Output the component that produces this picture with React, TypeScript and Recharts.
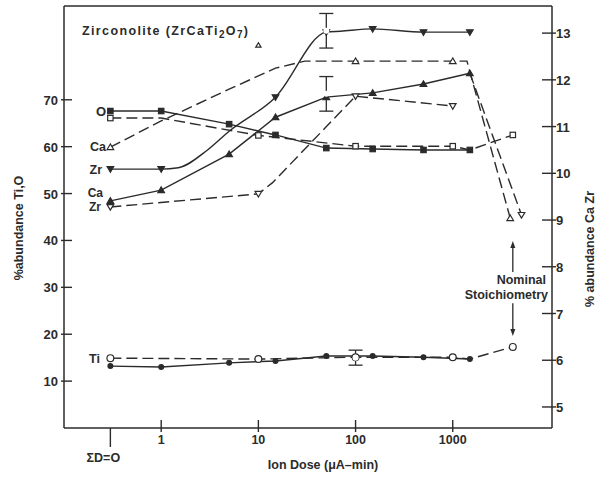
import React from 'react';
import { ComposedChart, Line, XAxis, YAxis, ReferenceLine, ErrorBar, Customized } from 'recharts';

const INK = '#2b2b2b';
const FONT = '"Liberation Sans", Arial, Helvetica, sans-serif';

// tick labels
const xTicks = [0.3, 1, 10, 100, 1000];
const leftTicks = [10, 20, 30, 40, 50, 60, 70];
const rightTicks = [5, 6, 7, 8, 9, 10, 11, 12, 13];

// O (left axis, %)
const oSolid = [
  { x: 0.3, v: 67.6 }, { x: 1, v: 67.6 }, { x: 5, v: 64.8 }, { x: 15, v: 62.5 },
  { x: 50, v: 59.7 }, { x: 150, v: 59.5 }, { x: 500, v: 59.3 }, { x: 1500, v: 59.3 },
];
const oOpen = [
  { x: 0.3, v: 66.1 }, { x: 1, v: 66.1, h: 1 }, { x: 10, v: 62.4 }, { x: 100, v: 60.1 },
  { x: 1000, v: 60.1 }, { x: 1500, v: 59.3, h: 1 }, { x: 4150, v: 62.5 },
];

// Ti (left axis, %)
const tiSolid = [
  { x: 0.3, v: 13.2 }, { x: 1, v: 13.0 }, { x: 5, v: 13.9 }, { x: 15, v: 14.3 },
  { x: 50, v: 15.35 }, { x: 150, v: 15.35 }, { x: 500, v: 15.1 }, { x: 1500, v: 14.7 },
];
const tiOpen = [
  { x: 0.3, v: 14.9 }, { x: 10, v: 14.7 }, { x: 100, v: 15.1 }, { x: 1000, v: 15.1 },
  { x: 1500, v: 14.7, h: 1 }, { x: 4150, v: 17.3 },
];
const tiErr = [{ x: 100, v: 15.0, e: 1.6 }];

// Ca (right axis, %)
const caSolid = [
  { x: 0.3, v: 9.41 }, { x: 1, v: 9.64 }, { x: 5, v: 10.41 }, { x: 15, v: 11.2 },
  { x: 50, v: 11.63 }, { x: 150, v: 11.72 }, { x: 500, v: 11.91 }, { x: 1500, v: 12.14 },
];
const caOpen = [
  { x: 0.3, v: 10.56 }, { x: 1, v: 11.12, h: 1 }, { x: 5, v: 11.8, h: 1 }, { x: 15, v: 12.25, h: 1 },
  { x: 30, v: 12.4, h: 1 }, { x: 100, v: 12.4 }, { x: 1000, v: 12.4 }, { x: 1400, v: 12.4, h: 1 },
  { x: 3900, v: 9.04 },
];
const caOutlier = [{ x: 10, v: 12.74 }];
const caErr = [{ x: 50, v: 11.7, e: 0.37 }];

// Zr (right axis, %)
const zrSolid = [
  { x: 0.3, v: 10.09 }, { x: 1, v: 10.09 }, { x: 1.5, v: 10.12, h: 1 }, { x: 3, v: 10.5, h: 1 },
  { x: 5, v: 10.9, h: 1 }, { x: 15, v: 11.63 }, { x: 50, v: 13.02 }, { x: 70, v: 13.04, h: 1 },
  { x: 150, v: 13.09 }, { x: 500, v: 13.02 }, { x: 1500, v: 13.02 },
];
const zrOpen = [
  { x: 0.3, v: 9.28 }, { x: 10, v: 9.56 }, { x: 14, v: 9.8, h: 1 }, { x: 100, v: 11.65 },
  { x: 1000, v: 11.44 }, { x: 1200, v: null }, { x: 1500, v: 12.14, h: 1 }, { x: 5100, v: 9.11 },
];
const zrErr = [{ x: 50, v: 13.05, e: 0.37 }];

// nominal stoichiometry arrows (right axis values)
const arrowUp = [{ x: 4150, y: 7.89 }, { x: 4150, y: 8.55 }];
const arrowDown = [{ x: 4150, y: 7.22 }, { x: 4150, y: 6.52 }];

type Shape = 'sq' | 'tri' | 'dtri' | 'circ';
const mk = (shape: Shape, filled: boolean, s = 1) => (p: any) => {
  const { cx, cy, payload, index } = p;
  const key = p.key ?? `d${index}`;
  if (cx == null || cy == null || !payload || payload.h || payload.v == null) return <g key={key} />;
  const fill = filled ? INK : '#fff';
  const sw = 1.2;
  if (shape === 'sq') {
    const a = 2.7 * s;
    return <rect key={key} x={cx - a} y={cy - a} width={2 * a} height={2 * a} fill={fill} stroke={INK} strokeWidth={sw} />;
  }
  if (shape === 'circ') {
    const r = (filled ? 2.4 : 3.4) * s;
    return <circle key={key} cx={cx} cy={cy} r={r} fill={fill} stroke={INK} strokeWidth={sw} />;
  }
  const w = 3.3 * s;
  const hgt = 3.2 * s;
  const pts = shape === 'tri'
    ? `${cx},${cy - hgt} ${cx - w},${cy + hgt * 0.75} ${cx + w},${cy + hgt * 0.75}`
    : `${cx},${cy + hgt} ${cx - w},${cy - hgt * 0.75} ${cx + w},${cy - hgt * 0.75}`;
  return <polygon key={key} points={pts} fill={fill} stroke={INK} strokeWidth={sw} strokeLinejoin="miter" />;
};

const XTick = (p: any) => {
  const { x, y, payload } = p;
  const v = payload.value;
  if (v === 0.3) {
    return (
      <g>
        <line x1={x} x2={x} y1={y} y2={y + 19} stroke={INK} strokeWidth={1.4} />
        <text x={x - 7} y={y + 34} textAnchor="middle" fontSize={12.5} fontWeight={700} fill={INK} fontFamily={FONT}>ΣD=O</text>
      </g>
    );
  }
  return (
    <g>
      <line x1={x} x2={x} y1={y - 8} y2={y + 4} stroke={INK} strokeWidth={1.4} />
      <text x={x} y={y + 16} textAnchor="middle" fontSize={12.5} fontWeight={700} fill={INK} fontFamily={FONT}>{v}</text>
    </g>
  );
};

const LTick = (p: any) => {
  const { x, y, payload } = p;
  return (
    <g>
      <line x1={x - 3} x2={x + 8} y1={y} y2={y} stroke={INK} strokeWidth={1.4} />
      <text x={x - 6} y={y + 5} textAnchor="end" fontSize={13} fontWeight={700} fill={INK} fontFamily={FONT}>{payload.value}</text>
    </g>
  );
};

const RTick = (p: any) => {
  const { x, y, payload } = p;
  return (
    <g>
      <line x1={x - 10} x2={x + 4} y1={y} y2={y} stroke={INK} strokeWidth={1.4} />
      <text x={x + 4} y={y + 5} textAnchor="start" fontSize={13} fontWeight={700} fill={INK} fontFamily={FONT}>{payload.value}</text>
    </g>
  );
};

const Arrow = (p: any) => {
  const { x1, y1, x2, y2 } = p;
  const dir = y2 > y1 ? 1 : -1;
  return (
    <g>
      <line x1={x1} y1={y1} x2={x2} y2={y2 - dir * 5} stroke={INK} strokeWidth={1.3} />
      <polygon points={`${x2},${y2} ${x2 - 2.5},${y2 - dir * 7} ${x2 + 2.5},${y2 - dir * 7}`} fill={INK} />
    </g>
  );
};

const T = (props: any) => (
  <text fontFamily={FONT} fontWeight={700} fill={INK} fontSize={12.5} {...props} />
);

const Annotations = () => (
  <g>
    <T x={82} y={35} fontSize={12.5} textLength={166}>
      Zirconolite (ZrCaTi<tspan dy={3} fontSize={10}>2</tspan><tspan dy={-3}>O</tspan><tspan dy={3} fontSize={10}>7</tspan><tspan dy={-3}>)</tspan>
    </T>
    <T x={106} y={116} textAnchor="end" fontSize={13}>O</T>
    <T x={106} y={151} textAnchor="end">Ca</T>
    <T x={102} y={174} textAnchor="end">Zr</T>
    <T x={103} y={197} textAnchor="end" fontSize={12}>Ca</T>
    <T x={101} y={211} textAnchor="end" fontSize={12}>Zr</T>
    <T x={100} y={363} textAnchor="end">Ti</T>
    <T x={546} y={284} textAnchor="end">Nominal</T>
    <T x={548} y={299} textAnchor="end">Stoichiometry</T>
    <T x={323} y={469} textAnchor="middle" fontSize={12.5}>Ion Dose (μA–min)</T>
    <T x={23} y={228} textAnchor="middle" transform="rotate(-90 23 228)">%abundance Ti,O</T>
    <T x={594} y={249} textAnchor="middle" transform="rotate(-90 594 249)">% abundance Ca  Zr</T>
  </g>
);

const lineCommon = {
  type: 'linear' as const,
  dataKey: 'v',
  stroke: INK,
  strokeWidth: 1.4,
  isAnimationActive: false,
  activeDot: false,
};
const DASH = '11 5';

export default function App() {
  return (
    <div style={{ position: 'absolute', left: 0, top: 0, background: '#fff' }}>
      <ComposedChart width={598} height={478} margin={{ top: 6, right: 0, bottom: 0, left: 0 }}>
        <XAxis
          dataKey="x"
          type="number"
          scale="log"
          domain={[0.1, 10500]}
          allowDataOverflow
          ticks={xTicks}
          interval={0}
          height={50}
          tickSize={0}
          tickMargin={0}
          tickLine={false}
          tick={<XTick />}
          axisLine={{ stroke: INK, strokeWidth: 1.5 }}
        />
        <YAxis
          yAxisId="left"
          orientation="left"
          type="number"
          domain={[0, 90]}
          allowDataOverflow
          ticks={leftTicks}
          interval={0}
          width={64}
          tickSize={0}
          tickMargin={0}
          tickLine={false}
          tick={<LTick />}
          axisLine={{ stroke: INK, strokeWidth: 1.5 }}
        />
        <YAxis
          yAxisId="right"
          orientation="right"
          type="number"
          domain={[4.55, 13.58]}
          allowDataOverflow
          ticks={rightTicks}
          interval={0}
          width={46}
          tickSize={0}
          tickMargin={0}
          tickLine={false}
          tick={<RTick />}
          axisLine={{ stroke: INK, strokeWidth: 1.5 }}
        />
        <ReferenceLine yAxisId="left" y={90} stroke={INK} strokeWidth={1.5} />

        {/* dashed (open-marker) series */}
        <Line {...lineCommon} yAxisId="left" data={oOpen} strokeDasharray={DASH} dot={mk('sq', false)} />
        <Line {...lineCommon} yAxisId="left" data={tiOpen} strokeDasharray={DASH} dot={mk('circ', false)} />
        <Line {...lineCommon} yAxisId="right" data={caOpen} strokeDasharray={DASH} dot={mk('tri', false)} />
        <Line {...lineCommon} yAxisId="right" data={zrOpen} strokeDasharray={DASH} dot={mk('dtri', false)} />
        <Line {...lineCommon} yAxisId="right" data={caOutlier} stroke="none" dot={mk('tri', false, 0.8)} />

        {/* solid (filled-marker) series */}
        <Line {...lineCommon} yAxisId="left" data={oSolid} dot={mk('sq', true)} />
        <Line {...lineCommon} yAxisId="left" data={tiSolid} dot={mk('circ', true)} />
        <Line {...lineCommon} yAxisId="right" data={caSolid} dot={mk('tri', true)} />
        <Line {...lineCommon} yAxisId="right" type="monotone" data={zrSolid} dot={mk('dtri', true)} />

        {/* error bars */}
        <Line {...lineCommon} yAxisId="left" data={tiErr} stroke="none" dot={false}>
          <ErrorBar dataKey="e" width={7} stroke={INK} strokeWidth={1.3} direction="y" />
        </Line>
        <Line {...lineCommon} yAxisId="right" data={caErr} stroke="none" dot={false}>
          <ErrorBar dataKey="e" width={7} stroke={INK} strokeWidth={1.3} direction="y" />
        </Line>
        <Line {...lineCommon} yAxisId="right" data={zrErr} stroke="none" dot={false}>
          <ErrorBar dataKey="e" width={7} stroke={INK} strokeWidth={1.3} direction="y" />
        </Line>

        <ReferenceLine yAxisId="right" segment={arrowUp} shape={<Arrow />} ifOverflow="visible" />
        <ReferenceLine yAxisId="right" segment={arrowDown} shape={<Arrow />} ifOverflow="visible" />

        <Customized component={Annotations} />
      </ComposedChart>
    </div>
  );
}
